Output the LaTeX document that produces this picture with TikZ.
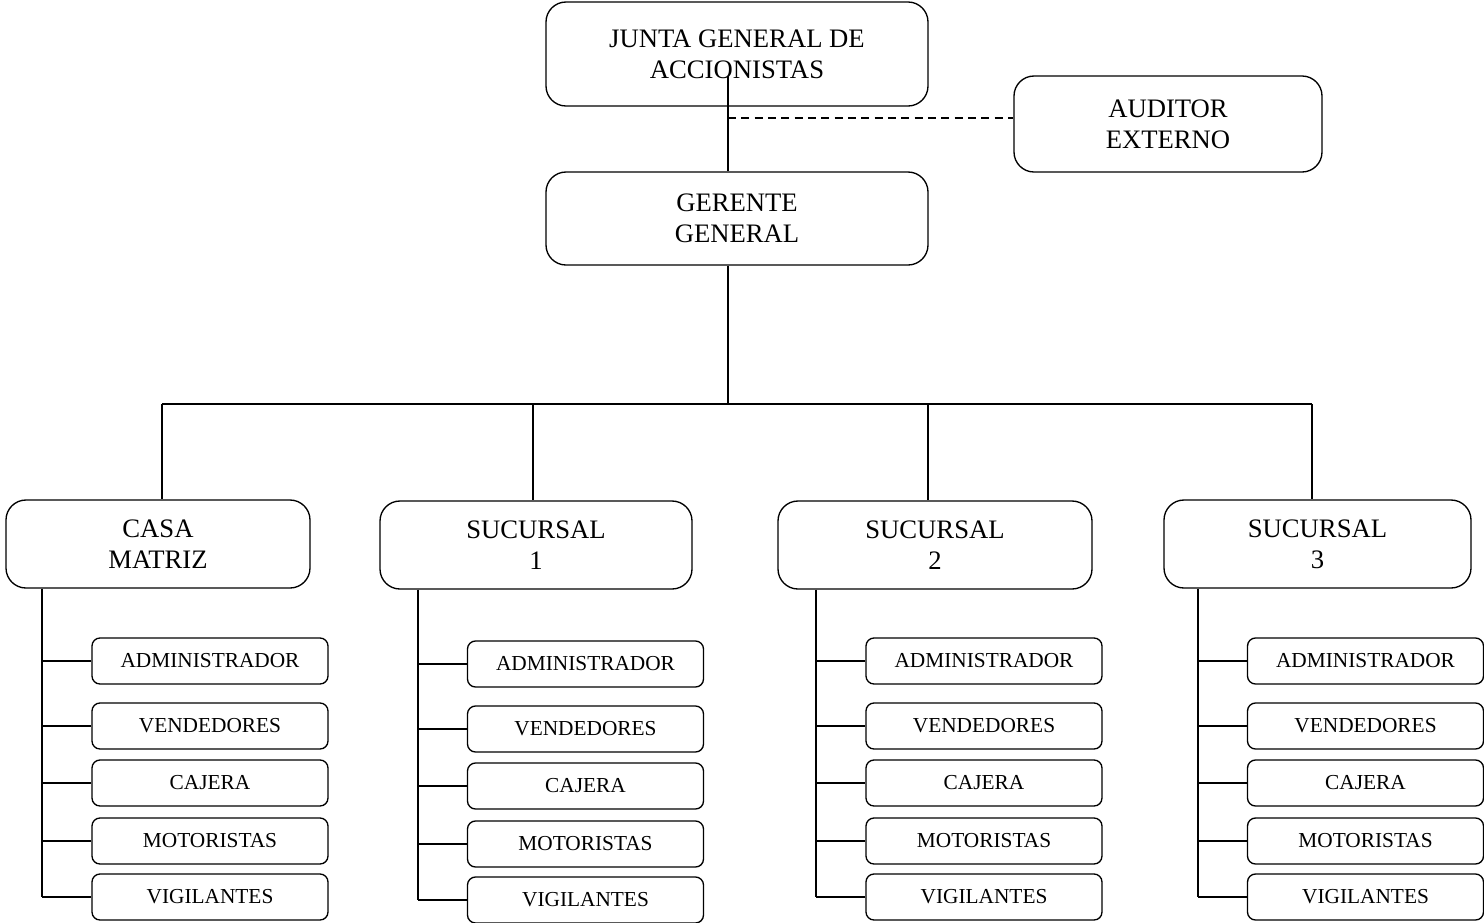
\documentclass[tikz,border=0pt]{standalone}
\usepackage{fontspec}
\setmainfont{Liberation Serif}
\tikzset{every picture/.style={line width=1pt}}
\tikzset{
	unitbox/.style={draw, rounded corners=15pt, align=center, inner sep=0pt,
		font=\fontsize{20}{23.25}\selectfont},
	rolebox/.style={draw, rounded corners=6pt, inner sep=0pt,
		minimum width=236*0.75pt, minimum height=46*0.75pt,
		font=\fontsize{16}{19}\selectfont},
	dotline/.style={dash pattern=on 6pt off 4pt}}
\begin{document}
\begin{tikzpicture}[x=0.75pt,y=0.75pt,yscale=-1,xscale=1]
	\useasboundingbox (0,0) rectangle (1484,922);

	% Top boxes
	\node[unitbox, minimum width=382*0.75pt, minimum height=104*0.75pt] (junta) at (737,54) {JUNTA GENERAL DE\\ACCIONISTAS};
	\node[unitbox, minimum width=382*0.75pt, minimum height=93*0.75pt] (gerente) at (737,218.5) {GERENTE\\GENERAL};
	\node[unitbox, minimum width=308*0.75pt, minimum height=96*0.75pt] (auditor) at (1168,124) {AUDITOR\\EXTERNO};

	% Branch boxes
	\node[unitbox, minimum width=304*0.75pt, minimum height=88*0.75pt] (casa) at (158,544) {CASA\\MATRIZ};
	\node[unitbox, minimum width=312*0.75pt, minimum height=88*0.75pt] (suc1) at (536,545) {SUCURSAL\\1};
	\node[unitbox, minimum width=314*0.75pt, minimum height=88*0.75pt] (suc2) at (935,545) {SUCURSAL\\2};
	\node[unitbox, minimum width=307*0.75pt, minimum height=88*0.75pt] (suc3) at (1317.5,544) {SUCURSAL\\3};

	% Junta -- Gerente, dashed to Auditor
	\coordinate (jline) at (728,76);
	\coordinate (dash) at (728,118);
	\draw (jline) -- (jline |- gerente.north);
	\draw[dotline] (dash) -- (dash -| auditor.west);

	% Gerente -- branches
	\coordinate (bus) at (728,404);
	\draw (bus |- gerente.south) -- (bus);
	\draw (162,404) -- (1312,404);
	\foreach \b/\x in {casa/162, suc1/533, suc2/928, suc3/1312} {
		\coordinate (\b-d) at (\x,404);
		\draw (\b-d) -- (\b-d |- \b.north);
	}

	% Staff of every branch
	\foreach \b/\vx/\bx/\dy in {casa/42/210/0, suc1/418/585.5/3, suc2/816/984/0, suc3/1198/1365.5/0} {
		\foreach \r/\ry [count=\i] in {ADMINISTRADOR/661, VENDEDORES/726, CAJERA/783, MOTORISTAS/841, VIGILANTES/897} {
			\node[rolebox] (\b-\i) at (\bx,\ry+\dy) {\r};
		}
		\coordinate (\b-v) at (\vx,0);
		\draw (\b-v |- \b.south) -- (\b-v |- \b-5.west);
		\foreach \i in {1,...,5}
			\draw (\b-v |- \b-\i.west) -- (\b-\i.west);
	}

\end{tikzpicture}
\end{document}
